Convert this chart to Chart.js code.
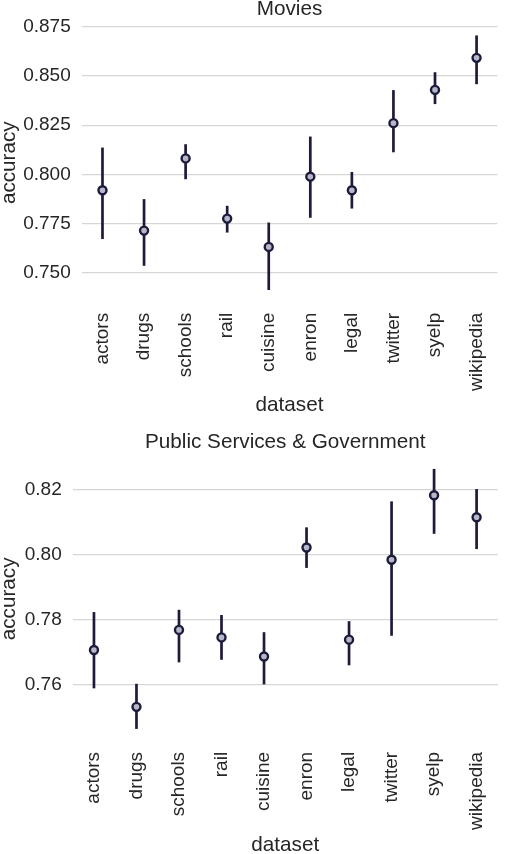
<!DOCTYPE html>
<html>
<head>
<meta charset="utf-8">
<script src="https://cdn.jsdelivr.net/npm/chart.js@4.4.1/dist/chart.umd.min.js"></script>
<style>
  html, body { margin: 0; padding: 0; background: #fff; overflow: hidden; }
  canvas { position: absolute; left: 0; }
  #top { top: 0; }
  #bottom { top: 420px; }
</style>
</head>
<body>
<canvas id="top" width="510" height="420"></canvas>
<canvas id="bottom" width="510" height="434"></canvas>
<script>
// datasets on the x axis
var datasets = ["actors", "drugs", "schools", "rail", "cuisine", "enron", "legal", "twitter", "syelp", "wikipedia"];

// Movies: mean accuracy and the error bar ends
var moviesMean = [0.7919, 0.7714, 0.8081, 0.7775, 0.7631, 0.7988, 0.7919, 0.8260, 0.8429, 0.8592];
var moviesLow  = [0.7671, 0.7535, 0.7975, 0.7704, 0.7412, 0.7779, 0.7826, 0.8112, 0.8357, 0.8458];
var moviesHigh = [0.8136, 0.7874, 0.8153, 0.7840, 0.7755, 0.8192, 0.8012, 0.8428, 0.8519, 0.8706];
var moviesTicks = [0.750, 0.775, 0.800, 0.825, 0.850, 0.875];

// Public Services & Government
var publicMean = [0.7707, 0.7532, 0.7769, 0.7746, 0.7687, 0.8023, 0.7739, 0.7985, 0.8184, 0.8116];
var publicLow  = [0.7589, 0.7464, 0.7669, 0.7677, 0.7601, 0.7960, 0.7660, 0.7751, 0.8065, 0.8018];
var publicHigh = [0.7824, 0.7603, 0.7831, 0.7815, 0.7762, 0.8085, 0.7796, 0.8165, 0.8265, 0.8203];
var publicTicks = [0.76, 0.78, 0.80, 0.82];

var navy = "#1d1b3c";
var textColor = "#262626";
var font = "'Liberation Sans', Arial, sans-serif";

function makeChart(id, title, mean, low, high, ticks, decimals, yMin, yMax, axisWidth, titlePadTop, titlePadBottom, xAxisHeight, xTitlePad) {
  // vertical error bars behind the markers
  var errorBars = {
    id: "errorBars",
    beforeDatasetsDraw: function (chart) {
      var ctx = chart.ctx;
      var x = chart.scales.x;
      var y = chart.scales.y;
      ctx.save();
      ctx.strokeStyle = navy;
      ctx.lineWidth = 2.7;
      low.forEach(function (lo, i) {
        var px = x.getPixelForValue(i);
        ctx.beginPath();
        ctx.moveTo(px, y.getPixelForValue(lo));
        ctx.lineTo(px, y.getPixelForValue(high[i]));
        ctx.stroke();
      });
      ctx.restore();
    }
  };

  return new Chart(document.getElementById(id), {
    type: "line",
    data: {
      labels: datasets,
      datasets: [
        {
          data: mean,
          showLine: false,
          pointStyle: "circle",
          pointRadius: 4,
          pointBorderWidth: 2.4,
          pointBorderColor: navy,
          pointBackgroundColor: "#b8b7c8",
        },
      ],
    },
    options: {
      responsive: false,
      animation: false,
      devicePixelRatio: 1,
      layout: { padding: 0 },
      plugins: {
        legend: { display: false },
        tooltip: { enabled: false },
        title: {
          display: true,
          text: title,
          fullSize: false,
          color: textColor,
          font: { family: font, size: 20.7, weight: "normal", lineHeight: 0.9 },
          padding: { top: titlePadTop, bottom: titlePadBottom },
        },
      },
      scales: {
        x: {
          offset: true,
          grid: { display: false, drawTicks: false },
          border: { display: false },
          ticks: {
            autoSkip: false,
            minRotation: 90,
            maxRotation: 90,
            padding: 10,
            color: textColor,
            font: { family: font, size: 19 },
          },
          title: {
            display: true,
            text: "dataset",
            color: textColor,
            font: { family: font, size: 20.7, lineHeight: 0.85 },
            padding: { top: 0, bottom: xTitlePad },
          },
          afterFit: function (s) { s.height = xAxisHeight; },
        },
        y: {
          min: yMin,
          max: yMax,
          grid: { color: "#d6d6d6", lineWidth: 1.2, drawTicks: false },
          border: { display: false },
          ticks: {
            padding: 11,
            color: textColor,
            font: { family: font, size: 19 },
            callback: function (v) { return Number(v).toFixed(decimals); },
          },
          afterBuildTicks: function (s) {
            s.ticks = ticks.map(function (v) { return { value: v }; });
          },
          title: {
            display: true,
            text: "accuracy",
            color: textColor,
            font: { family: font, size: 20.7, lineHeight: 0.85 },
            padding: 0,
          },
          afterFit: function (s) { s.width = axisWidth; },
        },
      },
    },
    plugins: [errorBars],
  });
}

makeChart("top", "Movies", moviesMean, moviesLow, moviesHigh, moviesTicks, 3,
  0.7347, 0.8771, 81.7, 0, 4, 117.2, 5.7);
makeChart("bottom", "Public Services & Government", publicMean, publicLow, publicHigh, publicTicks, 2,
  0.7424, 0.8305, 72.7, 13, 4.3, 112.1, 0.2);
</script>
</body>
</html>
